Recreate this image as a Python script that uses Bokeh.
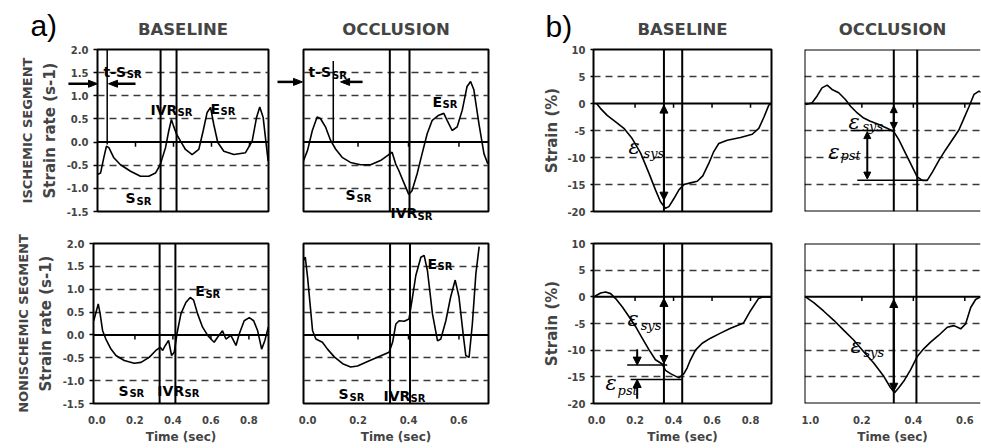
from bokeh.plotting import figure
from bokeh.layouts import column, row
from bokeh.models import (Span, Label, Arrow, NormalHead, FixedTicker, LinearAxis,
                          Range1d, PrintfTickFormatter)
from bokeh.core.properties import value
from bokeh.embed import file_html
from bokeh.resources import INLINE

# ---------------- data ----------------
# a) strain rate (s-1) vs time (sec)
a_base_isch_t = [0.0, 0.016, 0.033, 0.047, 0.06, 0.086, 0.121, 0.174, 0.226, 0.27, 0.305, 0.33,
                 0.358, 0.375, 0.389, 0.40, 0.416, 0.437, 0.463, 0.498, 0.533, 0.556, 0.577,
                 0.595, 0.612, 0.633, 0.665, 0.718, 0.779, 0.814, 0.837, 0.854, 0.872, 0.886, 0.898]
a_base_isch_sr = [-0.70, -0.67, -0.34, -0.09, -0.12, -0.34, -0.49, -0.63, -0.74, -0.74, -0.67, -0.49,
                  -0.12, 0.24, 0.49, 0.35, 0.17, 0.02, -0.16, -0.27, -0.16, 0.24, 0.64,
                  0.75, 0.38, -0.01, -0.20, -0.27, -0.23, 0.02, 0.53, 0.76, 0.53, 0.02, -0.41]

a_occl_isch_t = [-0.021, 0.0, 0.019, 0.038, 0.051, 0.071, 0.091, 0.111, 0.137, 0.17, 0.21, 0.25,
                 0.289, 0.322, 0.335, 0.349, 0.362, 0.381, 0.401, 0.414, 0.434, 0.454, 0.474,
                 0.494, 0.52, 0.54, 0.553, 0.573, 0.593, 0.613, 0.632, 0.646, 0.659, 0.679, 0.699, 0.714]
a_occl_isch_sr = [-0.47, -0.18, 0.25, 0.54, 0.51, 0.33, 0.04, -0.15, -0.33, -0.44, -0.49, -0.49,
                  -0.40, -0.27, -0.22, -0.47, -0.62, -0.87, -1.13, -1.05, -0.69, -0.25, 0.18,
                  0.47, 0.58, 0.62, 0.47, 0.25, 0.33, 0.69, 1.20, 1.31, 1.13, 0.40, -0.25, -0.47]

a_base_non_t = [-0.017, -0.005, 0.007, 0.017, 0.03, 0.047, 0.074, 0.10, 0.144, 0.196, 0.232, 0.275,
                0.31, 0.333, 0.346, 0.36, 0.377, 0.393, 0.407, 0.421, 0.442, 0.468, 0.491, 0.509,
                0.53, 0.556, 0.583, 0.60, 0.617, 0.635, 0.661, 0.679, 0.705, 0.732, 0.749, 0.775,
                0.802, 0.825, 0.846, 0.867, 0.884, 0.902]
a_base_non_sr = [0.31, 0.49, 0.68, 0.46, 0.09, -0.09, -0.31, -0.45, -0.56, -0.62, -0.60, -0.49,
                 -0.34, -0.27, -0.34, -0.23, -0.12, -0.45, -0.38, 0.02, 0.46, 0.71, 0.82, 0.76,
                 0.46, 0.17, -0.01, -0.09, -0.16, -0.05, 0.09, -0.09, -0.01, -0.23, 0.02, 0.31,
                 0.38, 0.31, 0.09, -0.31, -0.12, 0.17]

a_occl_non_t = [-0.016, -0.009, 0.0, 0.01, 0.02, 0.033, 0.059, 0.079, 0.106, 0.139, 0.171, 0.198,
                0.238, 0.277, 0.323, 0.337, 0.35, 0.363, 0.383, 0.402, 0.416, 0.429, 0.449, 0.462,
                0.475, 0.495, 0.515, 0.528, 0.548, 0.567, 0.585, 0.60, 0.618, 0.627, 0.64, 0.653,
                0.667, 0.68]
a_occl_non_sr = [1.63, 1.70, 1.27, 0.68, 0.09, -0.09, -0.16, -0.31, -0.48, -0.63, -0.70, -0.68,
                 -0.58, -0.49, -0.38, -0.16, 0.24, 0.31, 0.30, 0.35, 0.83, 1.30, 1.70, 1.74,
                 1.41, 0.46, -0.13, -0.09, 0.31, 0.83, 1.20, 0.83, -0.05, -0.45, -0.49, 0.24,
                 1.34, 1.93]

# b) strain (%) vs time (sec)
b_base_isch_t = [0.0, 0.02, 0.055, 0.099, 0.142, 0.185, 0.229, 0.272, 0.306, 0.332, 0.358, 0.376,
                 0.402, 0.428, 0.454, 0.488, 0.523, 0.552, 0.583, 0.609, 0.635, 0.679, 0.748,
                 0.809, 0.843, 0.87, 0.895, 0.908]
b_base_isch_s = [0.0, -0.9, -2.2, -3.4, -4.6, -6.5, -9.2, -12.9, -16.0, -18.2, -19.4, -19.1,
                 -17.6, -16.0, -15.0, -14.7, -14.4, -13.4, -11.1, -8.9, -7.4, -6.8, -6.3,
                 -5.7, -4.6, -2.5, -0.3, 0.0]

b_occl_isch_t = [-0.019, 0.006, 0.026, 0.045, 0.065, 0.084, 0.11, 0.136, 0.156, 0.182, 0.207, 0.233,
                 0.266, 0.298, 0.324, 0.344, 0.363, 0.389, 0.415, 0.435, 0.454, 0.474, 0.5,
                 0.525, 0.551, 0.577, 0.597, 0.617, 0.636, 0.655, 0.665]
b_occl_isch_s = [-0.2, 0.1, 1.4, 2.9, 3.4, 2.6, 2.0, 0.75, -0.5, -1.75, -2.7, -3.3,
                 -3.9, -4.6, -5.2, -6.75, -8.6, -11.1, -13.6, -14.25, -14.25, -12.7, -10.5,
                 -8.6, -6.75, -4.9, -2.7, -0.5, 1.7, 2.3, 2.0]

b_base_non_t = [-0.009, 0.021, 0.047, 0.073, 0.099, 0.134, 0.168, 0.203, 0.237, 0.272, 0.306, 0.341,
                0.358, 0.384, 0.428, 0.454, 0.471, 0.488, 0.514, 0.549, 0.592, 0.644, 0.696,
                0.764, 0.80, 0.842, 0.868, 0.908]
b_base_non_s = [0.1, 0.72, 0.9, 0.6, -0.33, -1.9, -3.7, -5.6, -7.75, -9.9, -11.8, -12.6,
                -13.8, -14.4, -15.2, -14.4, -13.3, -11.8, -10.0, -8.7, -7.75, -6.8, -5.9,
                -4.9, -2.6, -0.3, 0.0, 0.0]

b_occl_non_t = [-0.019, 0.013, 0.052, 0.091, 0.13, 0.168, 0.207, 0.246, 0.285, 0.311, 0.327, 0.344,
                0.363, 0.389, 0.415, 0.441, 0.467, 0.499, 0.532, 0.558, 0.584, 0.603, 0.623,
                0.642, 0.661]
b_occl_non_s = [0.0, -1.1, -2.7, -4.4, -6.3, -8.1, -10.3, -12.4, -14.9, -17.0, -18.0, -17.0,
                -15.8, -13.7, -11.2, -9.7, -8.5, -7.2, -5.7, -5.4, -6.0, -5.1, -2.0,
                -0.5, 0.0]

# event markers (sec): the two vertical lines in each panel
a_base_isch_events = [0.332, 0.416]
a_occl_isch_events = [0.326, 0.404]
a_base_non_events = [0.33, 0.413]
a_occl_non_events = [0.327, 0.406]
b_base_isch_events = [0.35, 0.445]
b_occl_isch_events = [0.324, 0.415]
b_base_non_events = [0.35, 0.445]
b_occl_non_events = [0.324, 0.412]

# time to onset of S_SR (sec)
a_base_isch_tS = 0.051
a_occl_isch_tS = 0.102

# ticks / labels
a_yticks = [-1.5, -1.0, -0.5, 0.0, 0.5, 1.0, 1.5, 2.0]
a_grid = [-1.0, -0.5, 0.5, 1.0, 1.5]
b_yticks = [-20, -15, -10, -5, 0, 5, 10]
b_grid = [-15, -10, -5, 5]
base_xticks = [0.0, 0.2, 0.4, 0.6, 0.8]
occl_xticks = [0.0, 0.2, 0.4, 0.6]
b_occl_xlabel_override = {0: "1.0"}   # printed this way in the original

# ---------------- styling / layout ----------------
FONT = "DejaVu Sans"
SERIF = "DejaVu Serif"
A_X_BASE = (0.0, 0.9)
A_X_BASE2 = (-0.018, 0.903)
A_X_OCCL = (-0.016, 0.717)
B_X_BASE = (-0.016, 0.909)
B_X_OCCL = (-0.023, 0.661)
A_Y = (-1.5, 2.0)
B_Y = (-20, 10)
SUB = "10px"
MAIN = "14px"
EPS = "21px"
EPS_SUB = "13px"


def panel(width, height, left, right, top, bottom, xr, yr, grid, box=True):
    p = figure(width=width, height=height, x_range=Range1d(*xr), y_range=Range1d(*yr),
               output_backend="svg", toolbar_location=None,
               min_border_left=left, min_border_right=right,
               min_border_top=top, min_border_bottom=bottom)
    p.background_fill_color = "white"
    p.border_fill_color = "white"
    if box:
        p.outline_line_color = "black"
        p.outline_line_width = 2
    else:
        p.outline_line_color = None
        p.add_layout(Span(location=xr[0], dimension="height", line_width=2, line_color="black"))
        p.add_layout(Span(location=yr[0], dimension="width", line_width=2, line_color="black"))
        p.add_layout(Span(location=yr[1], dimension="width", line_width=2, line_color="black"))
    p.xgrid.visible = False
    p.ygrid.ticker = FixedTicker(ticks=grid)
    p.ygrid.grid_line_color = "#3a3a3a"
    p.ygrid.grid_line_dash = "7 5"
    p.ygrid.grid_line_width = 1.5
    p.xaxis.visible = False
    p.yaxis.visible = False
    p.add_layout(Span(location=0, dimension="width", line_width=2, line_color="black"))
    return p


def y_axis(p, ticks, fmt, label, seg_label=None):
    ax = p.yaxis[0]
    ax.visible = True
    ax.ticker = FixedTicker(ticks=ticks)
    ax.formatter = PrintfTickFormatter(format=fmt)
    ax.axis_line_color = None
    ax.major_tick_out = 4
    ax.major_tick_in = 0
    ax.major_tick_line_width = 1.5
    ax.minor_tick_line_color = None
    ax.major_label_standoff = 5
    ax.major_label_text_font = FONT
    ax.major_label_text_font_style = "bold"
    ax.major_label_text_font_size = "10px"
    ax.axis_label = label
    ax.axis_label_text_font = FONT
    ax.axis_label_text_font_style = "bold"
    ax.axis_label_text_font_size = "15px"
    ax.axis_label_standoff = 5
    if seg_label:
        seg = LinearAxis(axis_label=seg_label, ticker=FixedTicker(ticks=[]),
                         axis_line_color=None, major_tick_out=0, major_tick_in=0,
                         minor_tick_out=0, minor_tick_in=0,
                         axis_label_text_font=FONT, axis_label_text_font_style="bold",
                         axis_label_text_font_size="13px", axis_label_standoff=3)
        p.add_layout(seg, "left")


def x_axis(p, ticks, overrides=None):
    ax = p.xaxis[0]
    ax.visible = True
    ax.ticker = FixedTicker(ticks=ticks)
    ax.formatter = PrintfTickFormatter(format="%.1f")
    if overrides:
        ax.major_label_overrides = overrides
    ax.axis_line_color = None
    ax.major_tick_out = 0
    ax.major_tick_in = 0
    ax.minor_tick_line_color = None
    ax.major_label_standoff = 12
    ax.major_label_text_font = FONT
    ax.major_label_text_font_style = "bold"
    ax.major_label_text_font_size = "10px"
    ax.axis_label = "Time (sec)"
    ax.axis_label_text_font = FONT
    ax.axis_label_text_font_style = "bold"
    ax.axis_label_text_font_size = "12px"
    ax.axis_label_standoff = 3


def common(p, t, v, events, ticks, tick_len):
    p.line(t, v, line_color="black", line_width=1.6)
    for e in events:
        p.add_layout(Span(location=e, dimension="height", line_width=2, line_color="black"))
    inner = [x for x in ticks if x > 0]
    p.segment(x0=inner, x1=inner, y0=[0] * len(inner), y1=[-tick_len] * len(inner),
              line_color="black", line_width=1.5)


def texts(p, items, font, style, size):
    for txt, x, y in items:
        p.add_layout(Label(x=x, y=y, text=txt, text_font=font, text_font_style=style,
                           text_font_size=size, text_color="black",
                           text_baseline="alphabetic", text_align="left"))


def gtext(p, x, y, txt, font, style, size):
    # glyph text drawn on the overlay level (may sit outside the frame)
    p.text(x=[x], y=[y], text=[txt], text_font=value(font), text_font_style=style,
           text_font_size=size, text_color="black", text_baseline="alphabetic",
           text_align="left", level="overlay")


def garrow(p, x0, x1, y, ppx, ppy, head_len=9, head_w=3.5):
    # horizontal arrow pointing at x1, drawn as glyphs on the overlay level
    d = 1 if x1 > x0 else -1
    base = x1 - d * head_len / ppx
    p.segment(x0=[x0], x1=[base], y0=[y], y1=[y], line_color="black", line_width=2.5,
              level="overlay")
    p.patch(x=[x1, base, base], y=[y, y + head_w / ppy, y - head_w / ppy],
            fill_color="black", line_color="black", line_width=1, level="overlay")


def arrow(p, x0, y0, x1, y1, both=False, size=8):
    head = lambda: NormalHead(size=size, fill_color="black", line_color="black", line_width=1)
    p.add_layout(Arrow(start=head() if both else None, end=head(),
                       x_start=x0, y_start=y0, x_end=x1, y_end=y1,
                       line_color="black", line_width=2))


def title(p, txt, offset):
    p.title.text = txt
    p.title.align = "center"
    p.title.offset = offset
    p.title.text_font = FONT
    p.title.text_font_style = "bold"
    p.title.text_font_size = "16.5px"
    p.title.standoff = 22


# widths: 276 + 224 + 281 + 200 = 981
H1, T1, B1b = 226, 49, 15
H2, T2, B2b = 220, 17, 42

# ---------------- row 1 : ischemic segment ----------------
p1 = panel(276, H1, 97, 8, T1, B1b, A_X_BASE, A_Y, a_grid)
common(p1, a_base_isch_t, a_base_isch_sr, a_base_isch_events, base_xticks, 0.1)
y_axis(p1, a_yticks, "%.1f", "Strain rate (s-1)", "ISCHEMIC SEGMENT")
title(p1, "BASELINE", -5)
p1.segment(x0=[a_base_isch_tS], x1=[a_base_isch_tS], y0=[2.0], y1=[-0.05], line_color="black", line_width=1.5)
garrow(p1, -0.153, 0.0, 1.26, 190, 46)
garrow(p1, 0.20, 0.058, 1.26, 190, 46)
texts(p1, [("t-S", 0.032, 1.52), ("IVR", 0.279, 0.70), ("E", 0.595, 0.72), ("S", 0.147, -1.20)], FONT, "bold", MAIN)
texts(p1, [("SR", 0.154, 1.457), ("SR", 0.421, 0.63), ("SR", 0.647, 0.652), ("SR", 0.205, -1.283)], FONT, "bold", SUB)
gtext(p1, -0.353, 2.51, "a)", "Liberation Sans", "normal", "30px")

p2 = panel(224, H1, 27, 12, T1, B1b, A_X_OCCL, A_Y, a_grid)
common(p2, a_occl_isch_t, a_occl_isch_sr, a_occl_isch_events, occl_xticks, 0.1)
title(p2, "OCCLUSION", 3)
p2.segment(x0=[a_occl_isch_tS], x1=[a_occl_isch_tS], y0=[1.75], y1=[0.0], line_color="black", line_width=1.5)
garrow(p2, -0.119, -0.02, 1.30, 252.5, 46)
garrow(p2, 0.218, 0.131, 1.30, 252.5, 46)
texts(p2, [("t-S", 0.004, 1.52), ("E", 0.495, 0.87), ("S", 0.15, -1.15)], FONT, "bold", MAIN)
texts(p2, [("SR", 0.097, 1.435), ("SR", 0.535, 0.804), ("SR", 0.194, -1.217)], FONT, "bold", SUB)
gtext(p2, 0.329, -1.54, "IVR", FONT, "bold", MAIN)
gtext(p2, 0.436, -1.609, "SR", FONT, "bold", SUB)

p3 = panel(281, H1, 93, 10, T1, B1b, B_X_BASE, B_Y, b_grid)
common(p3, b_base_isch_t, b_base_isch_s, b_base_isch_events, base_xticks, 0.8)
y_axis(p3, b_yticks, "%d", "Strain (%)")
p3.yaxis[0].axis_label_standoff = 3
p3.yaxis[0].major_tick_out = 3
title(p3, "BASELINE", -6)
arrow(p3, 0.35, -0.3, 0.35, -17.9, both=True)
texts(p3, [("\u03b5", 0.166, -8.1)], SERIF, "italic", EPS)
texts(p3, [("sys", 0.244, -9.2)], SERIF, "italic", EPS_SUB)
gtext(p3, -0.265, 14.3, "b)", "Liberation Sans", "normal", "30px")

p4 = panel(200, H1, 23, 1, T1, B1b, B_X_OCCL, B_Y, b_grid, box=False)
common(p4, b_occl_isch_t, b_occl_isch_s, b_occl_isch_events, occl_xticks, 0.8)
title(p4, "OCCLUSION", 3)
arrow(p4, 0.324, -0.4, 0.324, -4.8, both=True, size=7)
p4.segment(x0=[0.156, 0.182], x1=[0.324, 0.454], y0=[-5.0, -14.2], y1=[-5.0, -14.2], line_color="black", line_width=1.5)
arrow(p4, 0.221, -5.2, 0.221, -14.0, both=True, size=7)
texts(p4, [("\u03b5", 0.148, -3.5), ("\u03b5", 0.07, -8.95)], SERIF, "italic", EPS)
texts(p4, [("sys", 0.202, -4.26), ("pst", 0.117, -9.7)], SERIF, "italic", EPS_SUB)

# ---------------- row 2 : nonischemic segment ----------------
p5 = panel(276, H2, 93, 8, T2, B2b, A_X_BASE2, A_Y, a_grid)
common(p5, a_base_non_t, a_base_non_sr, a_base_non_events, base_xticks, 0.1)
y_axis(p5, a_yticks, "%.1f", "Strain rate (s-1)", "NONISCHEMIC SEGMENT")
x_axis(p5, base_xticks)
texts(p5, [("E", 0.518, 0.96), ("S", 0.113, -1.22), ("IVR", 0.318, -1.22)], FONT, "bold", MAIN)
texts(p5, [("SR", 0.571, 0.891), ("SR", 0.171, -1.283), ("SR", 0.461, -1.283)], FONT, "bold", SUB)

p6 = panel(224, H2, 27, 12, T2, B2b, A_X_OCCL, A_Y, a_grid)
common(p6, a_occl_non_t, a_occl_non_sr, a_occl_non_events, occl_xticks, 0.1)
x_axis(p6, occl_xticks)
texts(p6, [("E", 0.475, 1.56), ("S", 0.123, -1.30), ("IVR", 0.301, -1.33)], FONT, "bold", MAIN)
texts(p6, [("SR", 0.515, 1.493), ("SR", 0.166, -1.37), ("SR", 0.408, -1.392)], FONT, "bold", SUB)

p7 = panel(281, H2, 93, 10, T2, B2b, B_X_BASE, B_Y, b_grid)
common(p7, b_base_non_t, b_base_non_s, b_base_non_events, base_xticks, 0.8)
y_axis(p7, b_yticks, "%d", "Strain (%)")
p7.yaxis[0].axis_label_standoff = 3
p7.yaxis[0].major_tick_out = 3
x_axis(p7, base_xticks)
arrow(p7, 0.35, -0.3, 0.35, -12.5, both=True)
p7.segment(x0=[0.159, 0.177], x1=[0.367, 0.445], y0=[-12.8, -15.5], y1=[-12.8, -15.5], line_color="black", line_width=1.5)
arrow(p7, 0.211, -9.85, 0.211, -12.8)
arrow(p7, 0.211, -19.1, 0.211, -15.5)
texts(p7, [("\u03b5", 0.161, -4.1), ("\u03b5", 0.047, -16.2)], SERIF, "italic", EPS)
texts(p7, [("sys", 0.229, -5.4), ("pst", 0.109, -17.6)], SERIF, "italic", EPS_SUB)

p8 = panel(200, H2, 23, 1, T2, B2b, B_X_OCCL, B_Y, b_grid, box=False)
common(p8, b_occl_non_t, b_occl_non_s, b_occl_non_events, occl_xticks, 0.8)
x_axis(p8, occl_xticks, b_occl_xlabel_override)
arrow(p8, 0.324, -0.5, 0.324, -17.7, both=True)
texts(p8, [("\u03b5", 0.156, -9.3)], SERIF, "italic", EPS)
texts(p8, [("sys", 0.206, -10.4)], SERIF, "italic", EPS_SUB)

layout = column(row(p1, p2, p3, p4), row(p5, p6, p7, p8))
open("out.html", "w").write(file_html(layout, INLINE))
